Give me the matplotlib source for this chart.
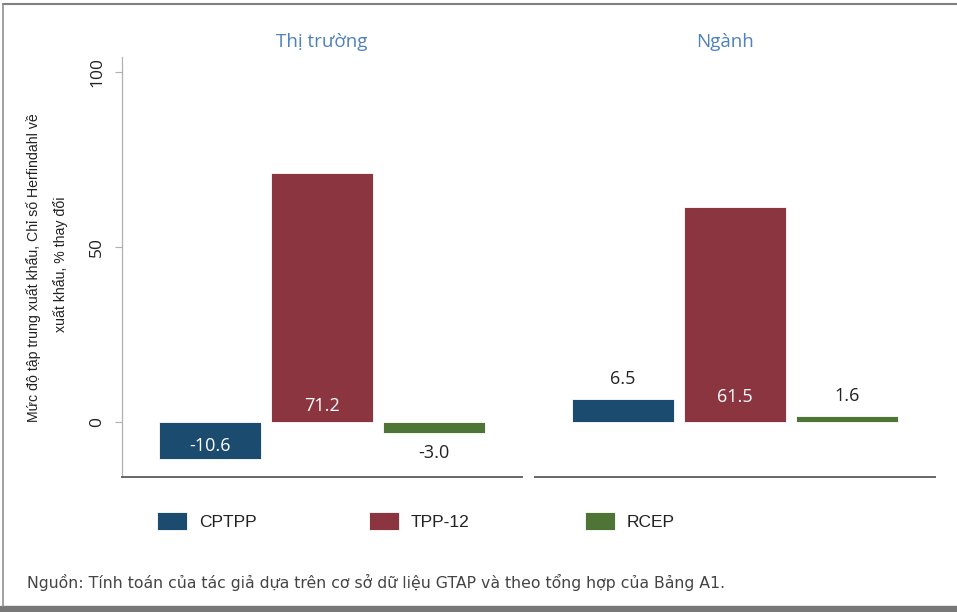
import numpy as np
import matplotlib.pyplot as plt
from matplotlib.lines import Line2D
from matplotlib.patches import Rectangle, Patch

# data
panels = ['Thị trường', 'Ngành']
series = ['CPTPP', 'TPP-12', 'RCEP']
values = {
    'Thị trường': [-10.6, 71.2, -3.0],
    'Ngành': [6.5, 61.5, 1.6],
}
yticks = [0, 50, 100]

colors = ['#1b4b6f', '#8b3541', '#4e7535']
title_col = '#4f81bd'
NARROW = ['Liberation Sans', 'DejaVu Sans']
REG = ['Open Sans', 'DejaVu Sans']

W, H = 957, 612
fig = plt.figure(figsize=(W / 100, H / 100), dpi=100)


def fx(px):
    return px / W


def fy(px):
    return 1 - px / H


# axes boxes in pixels: left, right ; top/bottom shared
top_px, bot_px = 57, 477
boxes = [(122, 522), (535, 935)]
title_x = [0.5, 0.475]
# label placement: (inside?, offset in pixels) per bar
lab_style = {
    'Thị trường': [('in', 0), ('in', 16), ('out', 0)],
    'Ngành': [('out', 0), ('in', 25), ('out', 0)],
}

x = np.arange(3)
axes = []
for i, (p, (l, r)) in enumerate(zip(panels, boxes)):
    ax = fig.add_axes([fx(l), fy(bot_px), fx(r - l), (bot_px - top_px) / H])
    vals = values[p]
    bars = ax.bar(x, vals, width=0.91, color=colors, edgecolor='white', linewidth=0.6)
    ax.set_xlim(-0.786, 2.786)
    ax.set_ylim(-15.7, 104.3)
    ax.set_xticks([])
    for s in ['top', 'right']:
        ax.spines[s].set_visible(False)
    ax.spines['bottom'].set_color('#666666')
    ax.spines['bottom'].set_linewidth(1.4)
    if i == 0:
        ax.spines['left'].set_color('#b0b0b0')
        ax.spines['left'].set_linewidth(0.9)
        ax.set_yticks(yticks)
        ax.set_yticklabels([str(t) for t in yticks], rotation=90, va='center',
                           fontsize=12.5, family=REG, color='#222222')
        ax.tick_params(axis='y', length=5, color='#b0b0b0', pad=7)
    else:
        ax.spines['left'].set_visible(False)
        ax.set_yticks([])
    ax.set_title(p, x=title_x[i], color=title_col, fontsize=13.5, family=REG, pad=7)

    for b, v, (mode, dy) in zip(bars, vals, lab_style[p]):
        cx = b.get_x() + b.get_width() / 2
        txt = f'{v:.1f}'
        if mode == 'in' and v < 0:
            ax.text(cx, v * 0.65, txt, ha='center', va='center', color='white',
                    fontsize=13, family=REG)
        elif mode == 'in':
            ax.annotate(txt, (cx, 0), xytext=(0, dy), textcoords='offset pixels',
                        ha='center', va='center', color='white', fontsize=13, family=REG)
        elif v < 0:
            ax.annotate(txt, (cx, v), xytext=(0, -20), textcoords='offset pixels',
                        ha='center', va='center', color='#222222', fontsize=13, family=REG)
        else:
            ax.annotate(txt, (cx, v), xytext=(0, 20), textcoords='offset pixels',
                        ha='center', va='center', color='#222222', fontsize=13, family=REG)
    axes.append(ax)

# y label (two lines)
fig.text(fx(34), fy(268), 'Mức độ tập trung xuất khẩu, Chỉ số Herfindahl về',
         rotation=90, ha='center', va='center', fontsize=10.2, family=NARROW, color='#222222')
fig.text(fx(61), fy(264), 'xuất khẩu, % thay đổi',
         rotation=90, ha='center', va='center', fontsize=10.2, family=NARROW, color='#222222')

# legend, one entry each
leg_x = [157, 369, 585]
for name, c, lx in zip(series, colors, leg_x):
    h = Patch(facecolor=c, edgecolor='white', linewidth=0.6)
    lg = fig.legend([h], [name], loc='center left', bbox_to_anchor=(fx(lx), fy(521)),
                    frameon=False, borderpad=0, borderaxespad=0, handlelength=1.75,
                    handleheight=1.25, handletextpad=0.65, prop={'family': NARROW, 'size': 12.5})
    for t in lg.get_texts():
        t.set_color('#222222')

# source note
fig.text(fx(27), fy(582), 'Nguồn: Tính toán của tác giả dựa trên cơ sở dữ liệu GTAP và theo tổng hợp của Bảng A1.',
         ha='left', va='center', fontsize=11.3, family=['DejaVu Sans'], color='#444444')

# outer frame
fig.add_artist(Line2D([fx(3), 1], [fy(4), fy(4)], color='#808080', lw=1.5))
fig.add_artist(Line2D([fx(3), fx(3)], [fy(4), fy(606)], color='#909090', lw=1.2))
fig.add_artist(Rectangle((0, 0), 1, 6 / H, transform=fig.transFigure, color='#787878'))

fig.savefig('out.png', dpi=100)
